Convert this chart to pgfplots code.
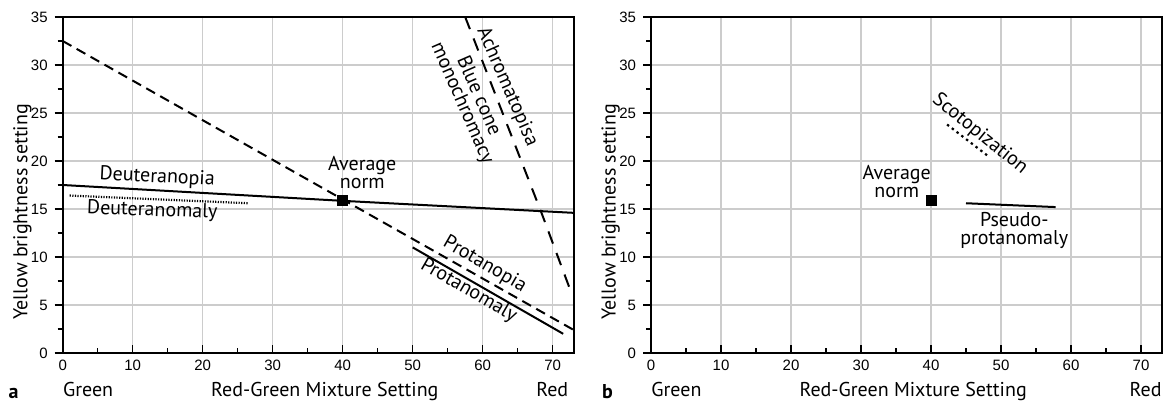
\documentclass[border=0pt]{standalone}
\usepackage{fontspec}
\setmainfont{PT Sans}
\newfontfamily\tickfont{Liberation Sans}
\usepackage{pgfplots}
\pgfplotsset{compat=1.18}
\tikzset{lbl/.style={font=\fontsize{10}{9}\selectfont, inner sep=0pt, align=center}}
\pgfplotsset{
  panel/.style={
    width=255.5pt, height=168pt, scale only axis,
    xmin=0, xmax=73, ymin=0, ymax=35,
    xtick={0,10,...,70}, ytick={0,5,...,35},
    minor x tick num=1, minor y tick num=1,
    tick pos=left,
    grid=major, major grid style={gray!40, line width=0.6pt},
    axis line style={line width=1pt},
    xtick align=inside, ytick align=outside,
    tick style={black, line width=0.7pt},
    major tick length=4pt, minor tick length=2.5pt,
    ticklabel style={font=\tickfont\fontsize{7.5}{9}\selectfont},
    /pgf/number format/assume math mode=true,
    every axis y label/.style={at={(axis description cs:-0.079,0.42)}, rotate=90, anchor=center, font=\fontsize{10}{12}\selectfont},
    every axis x label/.style={at={(axis description cs:0.513,-0.128)}, anchor=base, font=\fontsize{10}{12}\selectfont},
    ylabel={Yellow brightness setting},
    xlabel={Red-Green Mixture Setting},
  },
}
\begin{document}
\begin{tikzpicture}
% ---------------- panel a ----------------
\begin{axis}[panel, at={(0pt,0pt)}, anchor=south west, clip=true]
  % Protanopia / average dashed line
  \addplot[black, line width=1pt, dash pattern=on 5pt off 3pt] coordinates {(0,32.5) (40,16.0) (73,2.4)};
  % Deuteranopia
  \addplot[black, line width=1pt] coordinates {(0,17.5) (40,15.85) (73,14.6)};
  % Deuteranomaly
  \addplot[black, line width=1.1pt, dash pattern=on 0.6pt off 0.7pt] coordinates {(1,16.4) (26.5,15.6)};
  % Protanomaly
  \addplot[black, line width=1pt] coordinates {(50,11.0) (71.5,2.0)};
  % Achromatopsia / blue cone monochromacy
  \addplot[black, line width=1pt, dash pattern=on 6.5pt off 5pt] coordinates {(57.5,35) (68.4,14.6) (72.8,6.0)};
  % Average norm
  \addplot[only marks, mark=square*, mark size=2.5pt, black] coordinates {(40,15.85)};
\end{axis}
\begin{axis}[panel, at={(0pt,0pt)}, anchor=south west, clip=false, grid=none,
  axis lines=none, xlabel={}, ylabel={}]
  \addplot[draw=none] coordinates {(0,0)};
  \node[lbl, rotate=-3] at (axis cs:13.5,18.3) {Deuteranopia};
  \node[lbl, rotate=-2] at (axis cs:12.8,14.8) {Deuteranomaly};
  \node[lbl] at (axis cs:42.8,18.75) {Average\\norm};
  \node[lbl, rotate=-66.5] at (axis cs:63.5,27.7) {Achromatopisa};
  \node[lbl, rotate=-66.5] at (axis cs:58.2,26.4) {Blue cone\\monochromacy};
  \node[lbl, rotate=-30] at (axis cs:60.3,9.2) {Protanopia};
  \node[lbl, rotate=-30] at (axis cs:58.0,6.5) {Protanomaly};
  \node[lbl, anchor=base west] at (axis description cs:0,-0.128) {Green};
  \node[lbl, anchor=base east] at (axis description cs:0.99,-0.128) {Red};
  \node[lbl, anchor=base, font=\fontsize{10}{12}\selectfont\bfseries] at (axis description cs:-0.096,-0.134) {a};
\end{axis}
% ---------------- panel b ----------------
\begin{axis}[panel, at={(294.15pt,0pt)}, anchor=south west, clip=true]
  % Pseudo-protanomaly
  \addplot[black, line width=1pt] coordinates {(45.0,15.6) (57.8,15.2)};
  % Scotopization
  \addplot[black, line width=1.1pt, dash pattern=on 1.2pt off 1.8pt] coordinates {(42.3,23.8) (48.0,20.6)};
  % Average norm
  \addplot[only marks, mark=square*, mark size=2.5pt, black] coordinates {(40,15.85)};
\end{axis}
\begin{axis}[panel, at={(294.15pt,0pt)}, anchor=south west, clip=false, grid=none,
  axis lines=none, xlabel={}, ylabel={}]
  \addplot[draw=none] coordinates {(0,0)};
  \node[lbl] at (axis cs:35.1,17.9) {Average\\norm};
  \node[lbl, rotate=-39] at (axis cs:47.0,22.8) {Scotopization};
  \node[lbl] at (axis cs:51.9,12.75) {Pseudo-\\protanomaly};
  \node[lbl, anchor=base west] at (axis description cs:0,-0.128) {Green};
  \node[lbl, anchor=base east] at (axis description cs:1.0,-0.128) {Red};
  \node[lbl, anchor=base, font=\fontsize{10}{12}\selectfont\bfseries] at (axis description cs:-0.085,-0.134) {b};
\end{axis}
\pgfresetboundingbox
\path (-31.35pt,-24.5pt) rectangle (551.15pt,176.5pt);
\end{tikzpicture}
\end{document}
